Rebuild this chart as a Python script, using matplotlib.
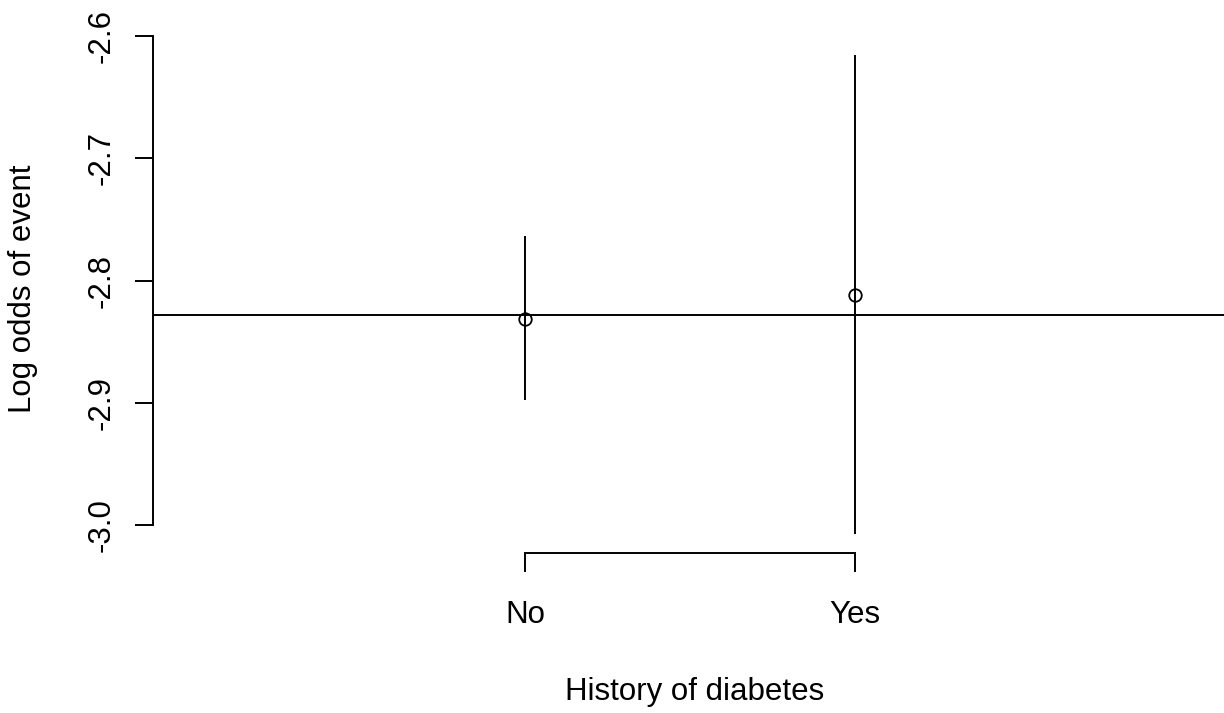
import matplotlib
matplotlib.use("Agg")
import matplotlib.pyplot as plt

# Data
categories = ["No", "Yes"]
estimates = [-2.8314, -2.8118]
lower = [-2.8976, -3.0072]
upper = [-2.7635, -2.6155]
overall = -2.828
yticks = [-3.0, -2.9, -2.8, -2.7, -2.6]
ytick_labels = ["-3.0", "-2.9", "-2.8", "-2.7", "-2.6"]

plt.rcParams['font.family'] = ['Liberation Sans', 'DejaVu Sans']
W, H = 1224, 713
fig = plt.figure(figsize=(W / 100, H / 100), dpi=100)

left_px, right_px, top_px, bottom_px = 153, 1224, 36, 553
ax = fig.add_axes([left_px / W, 1 - bottom_px / H,
                   (right_px - left_px) / W, (bottom_px - top_px) / H])

xpos = list(range(1, len(categories) + 1))
px_per_x = 330.0
ax.set_xlim(1 - (525 - left_px) / px_per_x, 2 + (right_px - 855) / px_per_x)
px_per_y = 1223.0
ax.set_ylim(-2.6 - (bottom_px - top_px) / px_per_y, -2.6)

lw = 1.4
fs = 22.5
ax.axhline(overall, color='black', lw=lw)
ax.vlines(xpos, lower, upper, color='black', lw=lw)
ax.plot(xpos, estimates, 'o', mfc='none', mec='black', ms=9.0, mew=1.3, ls='none')

for s in ['top', 'right']:
    ax.spines[s].set_visible(False)
ax.spines['left'].set_bounds(yticks[0], yticks[-1])
ax.spines['bottom'].set_bounds(xpos[0], xpos[-1])
ax.spines['left'].set_linewidth(lw)
ax.spines['bottom'].set_linewidth(lw)

ax.set_yticks(yticks)
ax.set_yticklabels(ytick_labels, rotation=90, va='center')
ax.set_xticks(xpos)
ax.set_xticklabels(categories)
ax.tick_params(axis='y', direction='out', length=13, width=lw, labelsize=fs, pad=13)
ax.tick_params(axis='x', direction='out', length=13.7, width=lw, labelsize=fs, pad=20)

fig.text(695 / W, 1 - 692 / H, "History of diabetes", ha='center', va='center', fontsize=fs)
fig.text(23 / W, 1 - 289 / H, "Log odds of event", ha='center', va='center', rotation=90, fontsize=fs)

fig.savefig("out.png", dpi=100)
